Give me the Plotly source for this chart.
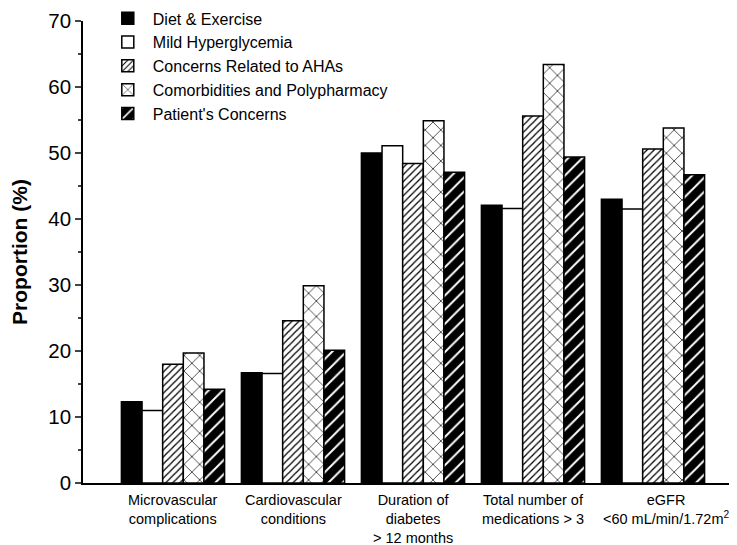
import plotly.graph_objects as go

categories = ["Microvascular<br>complications", "Cardiovascular<br>conditions",
              "Duration of<br>diabetes<br>> 12 months", "Total number of<br>medications > 3",
              "eGFR<br><60 mL/min/1.72m<sup>2</sup>"]
series_names = ["Diet & Exercise", "Mild Hyperglycemia", "Concerns Related to AHAs",
                "Comorbidities and Polypharmacy", "Patient's Concerns"]
diet_exercise = [12.3, 16.7, 50.0, 42.1, 43.0]
mild_hyperglycemia = [11.0, 16.6, 51.1, 41.6, 41.5]
concerns_ahas = [18.0, 24.6, 48.4, 55.6, 50.6]
comorbidities = [19.7, 29.9, 54.9, 63.4, 53.8]
patients_concerns = [14.2, 20.1, 47.1, 49.4, 46.7]
y_ticks = [0, 10, 20, 30, 40, 50, 60, 70]

x = list(range(len(categories)))
font = "Liberation Sans, Arial, sans-serif"
line = dict(color="black", width=1.5)

fig = go.Figure()
fig.add_bar(x=x, y=diet_exercise, name=series_names[0],
            marker=dict(color="black", line=line))
fig.add_bar(x=x, y=mild_hyperglycemia, name=series_names[1],
            marker=dict(color="white", line=line))
fig.add_bar(x=x, y=concerns_ahas, name=series_names[2],
            marker=dict(color="white", line=line,
                        pattern=dict(shape="/", fgcolor="black", bgcolor="white",
                                     size=5, solidity=0.25, fillmode="replace")))
fig.add_bar(x=x, y=comorbidities, name=series_names[3],
            marker=dict(color="white", line=line,
                        pattern=dict(shape="x", fgcolor="black", bgcolor="white",
                                     size=11, solidity=0.12, fillmode="replace")))
fig.add_bar(x=x, y=patients_concerns, name=series_names[4],
            marker=dict(color="black", line=line,
                        pattern=dict(shape="/", fgcolor="white", bgcolor="black",
                                     size=10, solidity=0.2, fillmode="replace")))

# category labels as annotations under each group
label_shift = [0, 0, 0, 0, 13]
for xi, txt, sh in zip(x, categories, label_shift):
    fig.add_annotation(x=xi, y=0, xref="x", yref="paper", text=txt, showarrow=False,
                       yanchor="top", xanchor="center", yshift=-7, xshift=sh,
                       font=dict(size=14.5, family=font, color="black"), align="center")

fig.update_layout(
    width=737, height=545,
    margin=dict(l=75, r=2, t=0, b=70, autoexpand=False),
    paper_bgcolor="white", plot_bgcolor="white",
    barmode="group", bargap=0.14, bargroupgap=0,
    font=dict(family=font, color="black"),
    legend=dict(x=0.03, y=1.014, xanchor="left", yanchor="top",
                font=dict(size=16, family=font), bgcolor="rgba(0,0,0,0)",
                tracegroupgap=0, itemwidth=40),
    showlegend=True,
)
fig.update_xaxes(
    tickvals=x, showticklabels=False, range=[-0.75, 4.75],
    showline=True, linecolor="black", linewidth=1.5, ticks="",
    showgrid=False, zeroline=False,
)
fig.update_yaxes(
    range=[0, 70], tickvals=y_ticks, ticks="outside", ticklen=6, tickwidth=1.5,
    domain=[0, 462 / 475],
    showline=True, linecolor="black", linewidth=1.5, showgrid=False, zeroline=False,
    tickfont=dict(size=20.5, family=font),
    minor=dict(dtick=5, ticks="outside", ticklen=3, tickwidth=1.5),
    title=dict(text="<b>Proportion (%)</b>", font=dict(size=21, family=font), standoff=22),
)

fig.write_html("out.html")
